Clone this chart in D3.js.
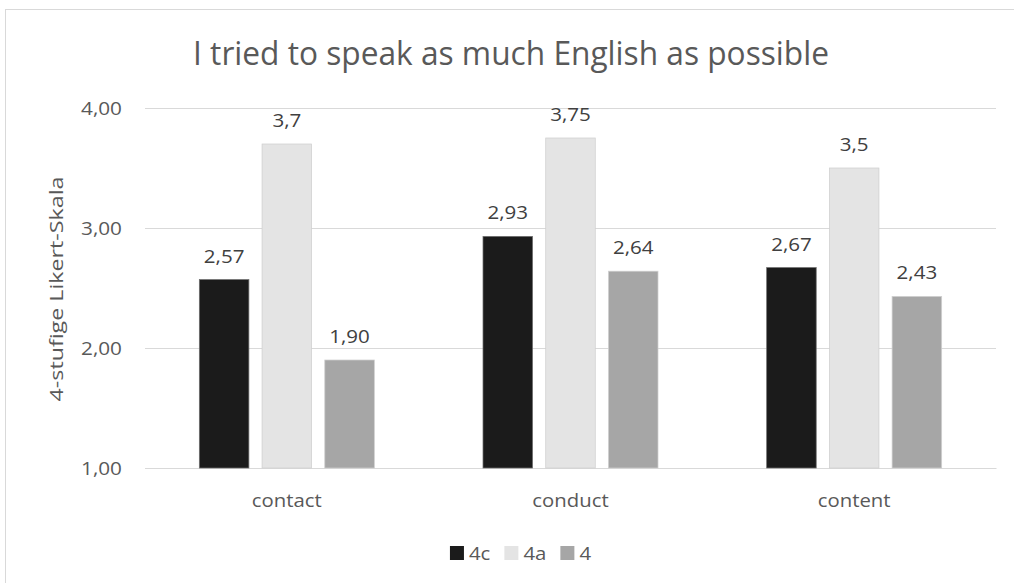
<!DOCTYPE html>
<html>
<head>
<meta charset="utf-8">
<script src="https://cdn.jsdelivr.net/npm/d3@7"></script>
<style>
  html, body { margin: 0; padding: 0; background: #fff; }
  svg { display: block; }
  text { font-family: "Open Sans", "Noto Sans", sans-serif; }
</style>
</head>
<body>
<svg id="chart" width="1014" height="583"></svg>
<script>
// ---- data ----
const chartTitle = "I tried to speak as much English as possible";
const yAxisTitle = "4-stufige Likert-Skala";
const categories = ["contact", "conduct", "content"];
const seriesNames = ["4c", "4a", "4"];
const values4c = [2.57, 2.93, 2.67];
const values4a = [3.7, 3.75, 3.5];
const values4 = [1.90, 2.64, 2.43];
const labels4c = ["2,57", "2,93", "2,67"];
const labels4a = ["3,7", "3,75", "3,5"];
const labels4 = ["1,90", "2,64", "2,43"];
const yTicks = [1, 2, 3, 4];
const yTickLabels = ["1,00", "2,00", "3,00", "4,00"];
const seriesColors = ["#1b1b1b", "#e4e4e4", "#a6a6a6"];

const seriesValues = [values4c, values4a, values4];
const seriesLabels = [labels4c, labels4a, labels4];

const svg = d3.select("#chart");

// horizontal squeeze factor so the string matches the reference width (Calibri is narrow)
function squeeze(str, size, target) {
  const t = svg.append("text").attr("font-size", size).text(str);
  const w = t.node().getComputedTextLength();
  t.remove();
  return target / w;
}
function addText(parent, x, y, str, size, sx, anchor, fill, rot) {
  return parent.append("text")
    .attr("transform", `translate(${x},${y})${rot ? " rotate(" + rot + ")" : ""} scale(${sx},1)`)
    .attr("text-anchor", anchor)
    .attr("font-size", size)
    .attr("fill", fill)
    .text(str);
}

// chart frame
svg.append("rect")
  .attr("x", 5.5).attr("y", 9.5)
  .attr("width", 1040).attr("height", 600)
  .attr("fill", "#fff").attr("stroke", "#d9d9d9").attr("stroke-width", 1);

const plot = { left: 145, right: 996, top: 108, bottom: 468 };

const y = d3.scaleLinear().domain([1, 4]).range([plot.bottom, plot.top]);
const x0 = d3.scaleBand().domain(categories).range([plot.left, plot.right]).padding(0);
const x1 = d3.scaleBand().domain(seriesNames).range([-87.5, 87.5]).paddingInner(0.21).paddingOuter(0);

const textSize = 19;

// title
addText(svg, 511, 65, chartTitle, 32, squeeze(chartTitle, 32, 636), "middle", "#595959");

// y gridlines
const yAxis = d3.axisLeft(y)
  .tickValues(yTicks)
  .tickSize(-(plot.right - plot.left))
  .tickFormat("");
const gy = svg.append("g").attr("transform", `translate(${plot.left},0)`).call(yAxis);
gy.select(".domain").remove();
gy.selectAll(".tick line").attr("stroke", "#d9d9d9").attr("stroke-width", 1);

// y tick labels
const tickSx = squeeze("4,00", textSize, 41);
const gyl = svg.append("g");
yTicks.forEach((v, i) => addText(gyl, 122, y(v) + 7, yTickLabels[i], textSize, tickSx, "end", "#595959"));

// x axis line + category labels
const xAxis = d3.axisBottom(x0).tickSize(0).tickFormat("");
const gx = svg.append("g").attr("transform", `translate(0,${plot.bottom})`).call(xAxis);
gx.select(".domain").attr("stroke", "#d9d9d9");
const catSx = squeeze("contact", textSize, 70);
categories.forEach(c => addText(svg, x0(c) + x0.bandwidth() / 2, 506.5, c, textSize, catSx, "middle", "#595959"));

// y axis title
addText(svg, 63, 289, yAxisTitle, textSize, squeeze(yAxisTitle, textSize, 225), "middle", "#595959", -90);

// bars
const lblSx = squeeze("2,57", textSize, 40.6);
seriesNames.forEach((s, si) => {
  const g = svg.append("g");
  const rows = categories.map((c, ci) => ({ c, v: seriesValues[si][ci], l: seriesLabels[si][ci] }));
  g.selectAll("rect")
    .data(rows)
    .join("rect")
    .attr("x", d => x0(d.c) + x0.bandwidth() / 2 + x1(s))
    .attr("y", d => y(d.v))
    .attr("width", x1.bandwidth())
    .attr("height", d => y(1) - y(d.v))
    .attr("fill", seriesColors[si])
    .attr("stroke", si === 0 ? "#6e6e6e" : "#cfcfcf")
    .attr("stroke-width", 0.75);
  rows.forEach(d => addText(g, x0(d.c) + x0.bandwidth() / 2 + x1(s) + x1.bandwidth() / 2,
    y(d.v) - 17, d.l, textSize, lblSx, "middle", "#404040"));
});

// legend
const legSx = squeeze("4a", textSize, 23);
const legG = svg.append("g");
let lx = 0;
seriesNames.forEach((s, si) => {
  legG.append("rect").attr("x", lx).attr("y", 546).attr("width", 14).attr("height", 14)
    .attr("fill", seriesColors[si]);
  const t = addText(legG, lx + 19, 560, s, textSize, legSx, "start", "#595959");
  const w = t.node().getComputedTextLength() * legSx;
  lx += 19 + w + 14;
});
const legW = lx - 14;
legG.attr("transform", `translate(${520.5 - legW / 2},0)`);
</script>
</body>
</html>
